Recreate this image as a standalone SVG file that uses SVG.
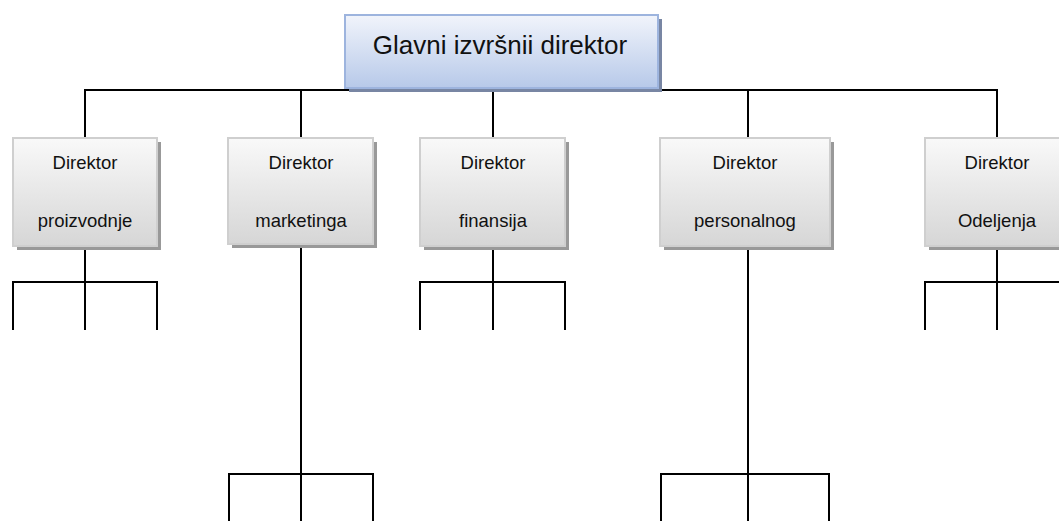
<svg xmlns="http://www.w3.org/2000/svg" width="1059" height="521" viewBox="0 0 1059 521">
<defs>
<linearGradient id="gBox" x1="0" y1="0" x2="0" y2="1">
<stop offset="0" stop-color="#f9f9f9"/>
<stop offset="1" stop-color="#d6d6d6"/>
</linearGradient>
<linearGradient id="gTop" x1="0" y1="0" x2="0" y2="1">
<stop offset="0" stop-color="#f1f4fb"/>
<stop offset="1" stop-color="#b7c9e9"/>
</linearGradient>
<style>
.ln{fill:none;stroke:#000;stroke-width:2}
.box{fill:url(#gBox);stroke:#cfcfcf;stroke-width:2}
.sh{fill:#999}
.top{fill:url(#gTop);stroke:#9db4de;stroke-width:2}
.tsh{fill:#7886a3}
.t{font-family:"Liberation Sans",Arial,sans-serif;font-size:18.5px;fill:#111;text-anchor:middle}
.tt{font-family:"Liberation Sans",Arial,sans-serif;font-size:26px;fill:#111;text-anchor:middle}
</style>
</defs>
<rect width="1059" height="521" fill="#fff"/>
<g id="connectors">
<path class="ln" d="M85 137V90H997V137"/>
<path class="ln" d="M301 90V137M493 88V137M748 90V137"/>
<path class="ln" d="M85 246V282M13 330V282H157V330M85 282V330"/>
<path class="ln" d="M301 246V474M229 521V474H373V521M301 474V521"/>
<path class="ln" d="M493 246V282M420 330V282H565V330M493 282V330"/>
<path class="ln" d="M748 246V474M661 521V474H829V521M748 474V521"/>
<path class="ln" d="M997 246V282M925 330V282H1069M997 282V330"/>
</g>
<g id="ceo">
<rect class="tsh" x="349" y="19" width="313" height="73"/>
<rect class="top" x="345" y="15" width="313" height="73"/>
<text class="tt" x="500" y="54">Glavni izvršnii direktor</text>
</g>
<g id="n1">
<rect class="sh" x="17" y="142" width="144" height="108"/>
<rect class="box" x="13" y="138" width="144" height="108"/>
<text class="t" x="85" y="169">Direktor</text>
<text class="t" x="85" y="227">proizvodnje</text>
</g>
<g id="n2">
<rect class="sh" x="232" y="142" width="145" height="106"/>
<rect class="box" x="228" y="138" width="145" height="106"/>
<text class="t" x="301" y="169">Direktor</text>
<text class="t" x="301" y="227">marketinga</text>
</g>
<g id="n3">
<rect class="sh" x="424" y="142" width="145" height="108"/>
<rect class="box" x="420" y="138" width="145" height="108"/>
<text class="t" x="493" y="169">Direktor</text>
<text class="t" x="493" y="227">finansija</text>
</g>
<g id="n4">
<rect class="sh" x="664" y="142" width="170" height="108"/>
<rect class="box" x="660" y="138" width="170" height="108"/>
<text class="t" x="745" y="169">Direktor</text>
<text class="t" x="745" y="227">personalnog</text>
</g>
<g id="n5">
<rect class="sh" x="929" y="142" width="145" height="108"/>
<rect class="box" x="925" y="138" width="145" height="108"/>
<text class="t" x="997" y="169">Direktor</text>
<text class="t" x="997" y="227">Odeljenja</text>
</g>
</svg>
